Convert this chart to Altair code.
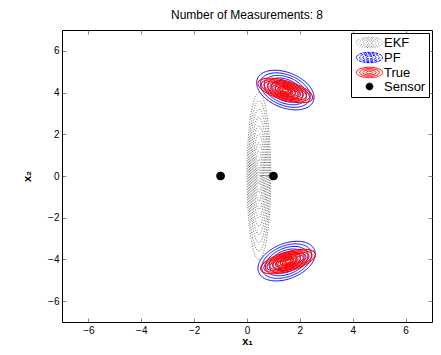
import altair as alt
import numpy as np
import pandas as pd

# ---- values ----
title_text = "Number of Measurements: 8"
tick_values = [-6, -4, -2, 0, 2, 4, 6]
axis_domain = [-7, 7]

sensor_x = [-1.0, 1.0]
sensor_y = [0.0, 0.0]

# contour ellipses: centre, semi-axes, tilt (deg), contour scale levels
ekf_center = [(0.45, 0.0)]
ekf_axes = (0.45, 4.0)
ekf_angle = [0.0]
ekf_levels = [1.0, 0.9, 0.8, 0.7, 0.6, 0.5, 0.4, 0.3, 0.2, 0.1]

pf_centers = [(1.45, 4.12), (1.5, -4.08)]
pf_axes = (1.2, 0.8)
pf_angles = [-35.0, 35.0]
pf_levels = [1.0, 0.87, 0.74, 0.61, 0.48, 0.35, 0.22]

true_centers = [(1.45, 4.1), (1.55, -4.1)]
true_axes = (1.1, 0.45)
true_angles = [-22.0, 22.0]
true_levels = [1.0, 0.88, 0.77, 0.66, 0.56, 0.46, 0.37, 0.28, 0.2, 0.12]

series_names = ["EKF", "PF", "True", "Sensor"]
series_stroke = ["#8a8a8a", "#0000ff", "#ff0000", "#000000"]
series_fill = ["transparent", "transparent", "transparent", "#000000"]


def ell_path(rx, ry):
    return (f"M {-rx} 0 A {rx} {ry} 0 1 0 {rx} 0 A {rx} {ry} 0 1 0 {-rx} 0 Z ")


icon = "".join(ell_path(3.9 * s, 1.55 * s) for s in [1.0, 0.75, 0.5, 0.25])
series_shape = [icon, icon, icon, "circle"]
series_dash = [[1, 1.5], [3, 1], [1, 0], [1, 0]]


def contours(centers, axes, angles, levels, name):
    rows = []
    t = np.linspace(0, 2 * np.pi, 121)
    for ci, ((cx, cy), ang) in enumerate(zip(centers, angles)):
        th = np.deg2rad(ang)
        for li, s in enumerate(levels):
            a, b = axes[0] * s, axes[1] * s
            xs = cx + a * np.cos(t) * np.cos(th) - b * np.sin(t) * np.sin(th)
            ys = cy + a * np.cos(t) * np.sin(th) + b * np.sin(t) * np.cos(th)
            for k, (xv, yv) in enumerate(zip(xs, ys)):
                rows.append({"x": xv, "y": yv, "k": k,
                             "c": f"{name}-{ci}-{li}"})
    return pd.DataFrame(rows)


ekf_df = contours(ekf_center, ekf_axes, ekf_angle, ekf_levels, "EKF")
pf_df = contours(pf_centers, pf_axes, pf_angles, pf_levels, "PF")
true_df = contours(true_centers, true_axes, true_angles, true_levels, "True")
sensor_df = pd.DataFrame({"x": sensor_x, "y": sensor_y,
                          "series": ["Sensor"] * len(sensor_x)})

FONT = "Liberation Sans"


def sx():
    return alt.Scale(domain=axis_domain, nice=False, zero=False)


def frame_axis(orient):
    # box edge: domain line only
    return alt.Axis(orient=orient, values=tick_values, domain=True, domainColor="black",
                    domainWidth=1, ticks=False, labels=False, title=None, grid=False)


def tick_axis(orient, labels=False, title=None, title_pad=0):
    # inward ticks (axis moved inside by the tick length)
    kw = dict(orient=orient, values=tick_values, domain=False, tickSize=4, offset=-4,
              labels=labels, grid=False, labelPadding=3)
    if title is not None:
        kw["title"] = title
        kw["titlePadding"] = title_pad
    else:
        kw["title"] = None
    return alt.Axis(**kw)


def line_layer(df, color, dash, width, xaxis, yaxis):
    return alt.Chart(df).mark_line(
        color=color, strokeDash=dash, strokeWidth=width, clip=True
    ).encode(
        x=alt.X("x:Q", scale=sx(), axis=xaxis),
        y=alt.Y("y:Q", scale=sx(), axis=yaxis),
        order="k:Q",
        detail="c:N",
    )


ekf = line_layer(ekf_df, "#444444", [1, 1.6], 0.8,
                 tick_axis("bottom", labels=True, title="x₁", title_pad=0),
                 tick_axis("left", labels=True, title="x₂", title_pad=15))
pf = line_layer(pf_df, "#0000ff", [1, 0], 1.0, frame_axis("bottom"), frame_axis("left"))
tru = line_layer(true_df, "#ff0000", [1, 0], 1.1, frame_axis("top"), frame_axis("right"))

leg = dict(title=None, orient="top-right", offset=3, strokeColor="black",
           fillColor="white", padding=3, labelFont=FONT, labelFontSize=13,
           labelColor="black", symbolSize=45, symbolOffset=9, labelOffset=8,
           rowPadding=0, symbolStrokeWidth=1.0, cornerRadius=0)
sensors = alt.Chart(sensor_df).mark_point(filled=False, size=45, opacity=1).encode(
    x=alt.X("x:Q", scale=sx(), axis=tick_axis("top")),
    y=alt.Y("y:Q", scale=sx(), axis=tick_axis("right")),
    stroke=alt.Stroke("series:N", scale=alt.Scale(domain=series_names, range=series_stroke),
                      legend=alt.Legend(**leg)),
    fill=alt.Fill("series:N", scale=alt.Scale(domain=series_names, range=series_fill),
                  legend=alt.Legend(**leg)),
    shape=alt.Shape("series:N", scale=alt.Scale(domain=series_names, range=series_shape),
                    legend=alt.Legend(**leg)),
    strokeDash=alt.StrokeDash("series:N", scale=alt.Scale(domain=series_names, range=series_dash),
                              legend=alt.Legend(**leg)),
)

chart = alt.layer(ekf, pf, tru, sensors).resolve_scale(
    x="independent", y="independent"
).resolve_axis(
    x="independent", y="independent"
).properties(
    width=370, height=292,
    title=alt.TitleParams(title_text, fontSize=12, fontWeight="normal", font=FONT,
                          color="black", offset=8),
    autosize=alt.AutoSizeParams(type="none"),
    padding={"left": 54, "top": 22, "right": 1, "bottom": 25},
).configure_view(
    stroke=None
).configure_axis(
    labelFont=FONT, labelFontSize=12, labelColor="black", tickColor="black",
    titleFont=FONT, titleFontSize=12, titleFontWeight="normal", titleColor="black",
).configure(background="white")

chart.save("out.html", embed_options={"renderer": "svg", "actions": False})
